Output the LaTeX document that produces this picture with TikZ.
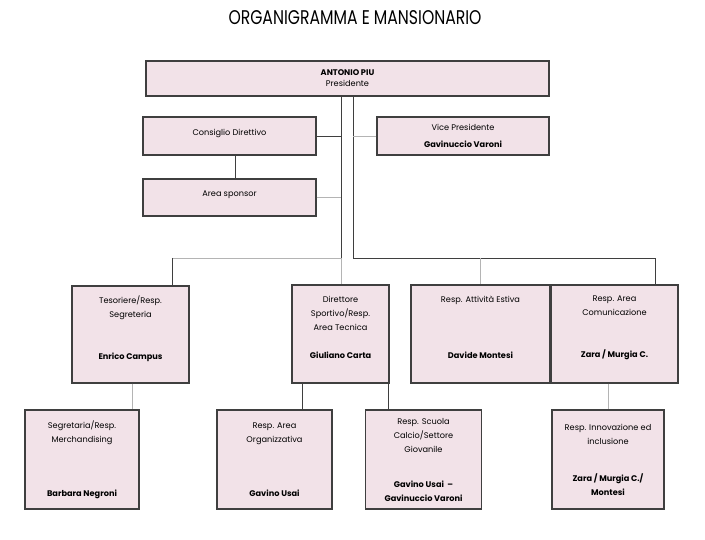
\documentclass[tikz,border=0pt]{standalone}
\usepackage{fontspec}
\setmainfont{Poppins}
\usetikzlibrary{positioning}
\definecolor{boxfill}{HTML}{F2E2E8}
\definecolor{boxline}{HTML}{3F3F3F}
\definecolor{greyline}{HTML}{B4B4B4}
\begin{document}
\begin{tikzpicture}[x=1pt,y=-1pt,
    box/.style={draw=boxline,fill=boxfill,line width=1.2pt,align=center,inner sep=2pt,
      font=\fontsize{8.2}{14}\selectfont},
    dark/.style={draw=boxline,line width=0.9pt},
    grey/.style={draw=greyline,line width=0.9pt}]
  \useasboundingbox (0,0) rectangle (705,540);
  \node (title) at (355,18) {\resizebox{253pt}{14pt}{ORGANIGRAMMA E MANSIONARIO}};

  \node[box,minimum width=403pt,minimum height=35pt] (pres) at (347.5,78.5) {\textbf{ANTONIO PIU}\\[-3pt]Presidente};
  \node[box,minimum width=173pt,minimum height=38pt] (cons) at (229.5,136) {Consiglio Direttivo\\[-6pt]~};
  \node[box,minimum width=172pt,minimum height=38pt] (vice) at (463,136) {Vice Presidente\\[3pt]\textbf{Gavinuccio Varoni}};
  \node[box,minimum width=173pt,minimum height=37pt] (spons) at (229.5,197.5) {Area sponsor\\[-6pt]~};

  \node[box,minimum width=117pt,minimum height=97pt] (tes) at (130.5,334.5) {Tesoriere/Resp.\\Segreteria\\[28pt]\textbf{Enrico Campus}\\~};
  \node[box,minimum width=97pt,minimum height=98pt] (dir) at (340.5,334) {Direttore\\Sportivo/Resp.\\Area Tecnica\\[14pt]\textbf{Giuliano Carta}\\~};
  \node[box,minimum width=139pt,minimum height=98pt] (est) at (480.5,334) {Resp. Attività Estiva\\[42pt]\textbf{Davide Montesi}\\~};
  \node[box,minimum width=127pt,minimum height=98pt] (com) at (614.5,334) {Resp. Area\\Comunicazione\\[28pt]\textbf{Zara / Murgia C.}\\~};

  \node[box,minimum width=114pt,minimum height=99pt] (seg) at (82,459.5) {Segretaria/Resp.\\Merchandising\\[40pt]\textbf{Barbara Negroni}};
  \node[box,minimum width=115pt,minimum height=99pt] (org) at (274.5,459.5) {Resp. Area\\Organizzativa\\[40pt]\textbf{Gavino Usai}};
  \node[box,minimum width=116pt,minimum height=99pt] (scu) at (423.5,459.5) {Resp. Scuola\\Calcio/Settore\\Giovanile\\[21pt]\textbf{Gavino Usai\ \ –}\\\textbf{Gavinuccio Varoni}};
  \node[box,minimum width=112pt,minimum height=99pt] (inn) at (608,459.5) {Resp. Innovazione ed\\inclusione\\[23pt]\textbf{Zara / Murgia C./}\\\textbf{Montesi}};

  % junctions
  \coordinate (j1) at (341,258);
  \coordinate (j2) at (353,258);
  \coordinate (j3) at (655,258);
  \coordinate (j4) at (172,258);

  \draw[dark] (pres.south -| j1) -- (j1);
  \draw[dark] (pres.south -| j2) -- (j2) -- (j3) -- (com.north -| j3);
  \draw[grey] (j4) -- (j1);
  \draw[dark] (j4) -- (tes.north -| j4);
  \draw[grey] (j1) -- (dir.north -| j1);
  \draw[grey] (est.north |- j2) -- (est.north);
  \draw[dark] (cons.east) -- (cons.east -| j1);
  \draw[grey] (vice.west) -- (vice.west -| j2);
  \draw[grey] (spons.east) -- (spons.east -| j1);
  \draw[dark] ([xshift=6pt]cons.south) -- ([xshift=6pt]cons.south |- spons.north);

  \draw[grey] (tes.south -| 132,0) -- (seg.north -| 132,0);
  \draw[dark] ([xshift=-38pt]dir.south) -- ([xshift=-38pt]dir.south |- org.north);
  \draw[dark] ([xshift=48pt]dir.south) -- ([xshift=48pt]dir.south |- scu.north);
  \draw[grey] (com.south -| inn.north) -- (inn.north);
\end{tikzpicture}
\end{document}
